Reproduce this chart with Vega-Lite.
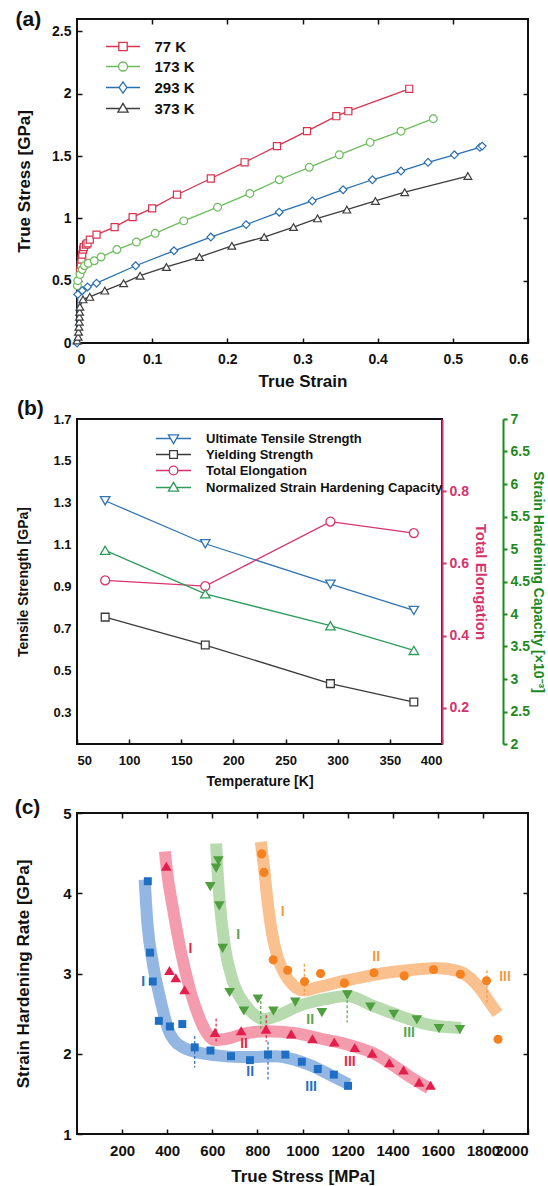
{
"$schema": "https://vega.github.io/schema/vega-lite/v6.json",
"padding": {"left": 13, "top": 8, "right": 0, "bottom": 0},
"spacing": 7,
"resolve": {"scale": {"color": "independent", "shape": "independent", "fill": "independent", "stroke": "independent"}, "legend": {"color": "independent", "shape": "independent", "fill": "independent", "stroke": "independent"}},
"datasets": {
"a": [
{"T":"77 K","e":0.004,"s":0.58},{"T":"77 K","e":0.005,"s":0.63},{"T":"77 K","e":0.006,"s":0.67},{"T":"77 K","e":0.007,"s":0.71},{"T":"77 K","e":0.008,"s":0.75},{"T":"77 K","e":0.009,"s":0.77},{"T":"77 K","e":0.012,"s":0.79},{"T":"77 K","e":0.014,"s":0.8},{"T":"77 K","e":0.017,"s":0.83},{"T":"77 K","e":0.026,"s":0.87},{"T":"77 K","e":0.05,"s":0.93},{"T":"77 K","e":0.074,"s":1.01},{"T":"77 K","e":0.1,"s":1.08},{"T":"77 K","e":0.133,"s":1.19},{"T":"77 K","e":0.178,"s":1.32},{"T":"77 K","e":0.223,"s":1.45},{"T":"77 K","e":0.266,"s":1.58},{"T":"77 K","e":0.306,"s":1.7},{"T":"77 K","e":0.345,"s":1.82},{"T":"77 K","e":0.361,"s":1.86},{"T":"77 K","e":0.442,"s":2.04},
{"T":"173 K","e":0.0005,"s":0.46},{"T":"173 K","e":0.001,"s":0.5},{"T":"173 K","e":0.004,"s":0.55},{"T":"173 K","e":0.007,"s":0.59},{"T":"173 K","e":0.01,"s":0.62},{"T":"173 K","e":0.015,"s":0.64},{"T":"173 K","e":0.023,"s":0.66},{"T":"173 K","e":0.032,"s":0.69},{"T":"173 K","e":0.053,"s":0.75},{"T":"173 K","e":0.079,"s":0.81},{"T":"173 K","e":0.104,"s":0.88},{"T":"173 K","e":0.142,"s":0.98},{"T":"173 K","e":0.187,"s":1.09},{"T":"173 K","e":0.23,"s":1.2},{"T":"173 K","e":0.269,"s":1.31},{"T":"173 K","e":0.309,"s":1.41},{"T":"173 K","e":0.349,"s":1.51},{"T":"173 K","e":0.39,"s":1.61},{"T":"173 K","e":0.431,"s":1.7},{"T":"173 K","e":0.474,"s":1.8},
{"T":"293 K","e":0,"s":0},{"T":"293 K","e":0.001,"s":0.39},{"T":"293 K","e":0.007,"s":0.42},{"T":"293 K","e":0.014,"s":0.45},{"T":"293 K","e":0.026,"s":0.48},{"T":"293 K","e":0.078,"s":0.62},{"T":"293 K","e":0.129,"s":0.74},{"T":"293 K","e":0.178,"s":0.85},{"T":"293 K","e":0.225,"s":0.95},{"T":"293 K","e":0.269,"s":1.05},{"T":"293 K","e":0.313,"s":1.14},{"T":"293 K","e":0.354,"s":1.23},{"T":"293 K","e":0.393,"s":1.31},{"T":"293 K","e":0.431,"s":1.38},{"T":"293 K","e":0.467,"s":1.45},{"T":"293 K","e":0.502,"s":1.51},{"T":"293 K","e":0.536,"s":1.57},{"T":"293 K","e":0.539,"s":1.58},
{"T":"373 K","e":0.0001,"s":0.02},{"T":"373 K","e":0.0015,"s":0.05},{"T":"373 K","e":0.002,"s":0.09},{"T":"373 K","e":0.0025,"s":0.13},{"T":"373 K","e":0.003,"s":0.17},{"T":"373 K","e":0.0032,"s":0.21},{"T":"373 K","e":0.0035,"s":0.25},{"T":"373 K","e":0.0038,"s":0.29},{"T":"373 K","e":0.008,"s":0.35},{"T":"373 K","e":0.017,"s":0.37},{"T":"373 K","e":0.037,"s":0.42},{"T":"373 K","e":0.062,"s":0.48},{"T":"373 K","e":0.084,"s":0.54},{"T":"373 K","e":0.119,"s":0.61},{"T":"373 K","e":0.163,"s":0.69},{"T":"373 K","e":0.206,"s":0.78},{"T":"373 K","e":0.249,"s":0.85},{"T":"373 K","e":0.288,"s":0.93},{"T":"373 K","e":0.32,"s":1.0},{"T":"373 K","e":0.359,"s":1.07},{"T":"373 K","e":0.397,"s":1.14},{"T":"373 K","e":0.436,"s":1.21},{"T":"373 K","e":0.52,"s":1.34}
],
"b": [
{"m":"Ultimate Tensile Strength","T":77,"v":1.31},{"m":"Ultimate Tensile Strength","T":173,"v":1.105},{"m":"Ultimate Tensile Strength","T":293,"v":0.912},{"m":"Ultimate Tensile Strength","T":373,"v":0.787},
{"m":"Yielding Strength","T":77,"v":0.755},{"m":"Yielding Strength","T":173,"v":0.622},{"m":"Yielding Strength","T":293,"v":0.438},{"m":"Yielding Strength","T":373,"v":0.35},
{"m":"Total Elongation","T":77,"v":0.553},{"m":"Total Elongation","T":173,"v":0.537},{"m":"Total Elongation","T":293,"v":0.716},{"m":"Total Elongation","T":373,"v":0.684},
{"m":"Normalized Strain Hardening Capacity","T":77,"v":4.98},{"m":"Normalized Strain Hardening Capacity","T":173,"v":4.31},{"m":"Normalized Strain Hardening Capacity","T":293,"v":3.82},{"m":"Normalized Strain Hardening Capacity","T":373,"v":3.44}
],
"cpts": [
{"K":"373 K","s":314,"r":4.15},{"K":"373 K","s":324,"r":3.26},{"K":"373 K","s":336,"r":2.9},{"K":"373 K","s":363,"r":2.41},{"K":"373 K","s":412,"r":2.34},{"K":"373 K","s":467,"r":2.37},{"K":"373 K","s":522,"r":2.08},{"K":"373 K","s":592,"r":2.04},{"K":"373 K","s":683,"r":1.97},{"K":"373 K","s":767,"r":1.92},{"K":"373 K","s":847,"r":1.99},{"K":"373 K","s":924,"r":1.99},{"K":"373 K","s":997,"r":1.9},{"K":"373 K","s":1068,"r":1.81},{"K":"373 K","s":1139,"r":1.74},{"K":"373 K","s":1202,"r":1.6},
{"K":"293 K","s":396,"r":4.33},{"K":"293 K","s":410,"r":3.03},{"K":"293 K","s":438,"r":2.94},{"K":"293 K","s":477,"r":2.79},{"K":"293 K","s":612,"r":2.26},{"K":"293 K","s":728,"r":2.28},{"K":"293 K","s":838,"r":2.3},{"K":"293 K","s":950,"r":2.24},{"K":"293 K","s":1044,"r":2.18},{"K":"293 K","s":1141,"r":2.14},{"K":"293 K","s":1232,"r":2.07},{"K":"293 K","s":1309,"r":2.0},{"K":"293 K","s":1385,"r":1.88},{"K":"293 K","s":1448,"r":1.79},{"K":"293 K","s":1517,"r":1.64},{"K":"293 K","s":1568,"r":1.6},
{"K":"173 K","s":627,"r":4.41},{"K":"173 K","s":617,"r":4.32},{"K":"173 K","s":591,"r":4.09},{"K":"173 K","s":631,"r":3.85},{"K":"173 K","s":646,"r":3.32},{"K":"173 K","s":677,"r":2.77},{"K":"173 K","s":740,"r":2.54},{"K":"173 K","s":802,"r":2.69},{"K":"173 K","s":871,"r":2.54},{"K":"173 K","s":968,"r":2.65},{"K":"173 K","s":1086,"r":2.52},{"K":"173 K","s":1199,"r":2.74},{"K":"173 K","s":1301,"r":2.59},{"K":"173 K","s":1405,"r":2.5},{"K":"173 K","s":1507,"r":2.43},{"K":"173 K","s":1605,"r":2.32},{"K":"173 K","s":1698,"r":2.31},
{"K":"77 K","s":819,"r":4.49},{"K":"77 K","s":829,"r":4.26},{"K":"77 K","s":870,"r":3.17},{"K":"77 K","s":934,"r":3.04},{"K":"77 K","s":1009,"r":2.9},{"K":"77 K","s":1080,"r":3.0},{"K":"77 K","s":1186,"r":2.88},{"K":"77 K","s":1317,"r":3.01},{"K":"77 K","s":1451,"r":2.97},{"K":"77 K","s":1581,"r":3.05},{"K":"77 K","s":1700,"r":2.99},{"K":"77 K","s":1816,"r":2.91},{"K":"77 K","s":1867,"r":2.18}
],
"cfit": [
{"K":"373 K","s":300,"r":4.17},{"K":"373 K","s":313,"r":3.6},{"K":"373 K","s":335,"r":3.15},{"K":"373 K","s":362,"r":2.77},{"K":"373 K","s":385,"r":2.5},{"K":"373 K","s":405,"r":2.3},{"K":"373 K","s":430,"r":2.17},{"K":"373 K","s":470,"r":2.08},{"K":"373 K","s":530,"r":2.02},{"K":"373 K","s":620,"r":1.98},{"K":"373 K","s":720,"r":1.96},{"K":"373 K","s":800,"r":1.96},{"K":"373 K","s":880,"r":1.97},{"K":"373 K","s":960,"r":1.93},{"K":"373 K","s":1040,"r":1.85},{"K":"373 K","s":1120,"r":1.74},{"K":"373 K","s":1205,"r":1.62},
{"K":"293 K","s":390,"r":4.52},{"K":"293 K","s":398,"r":4.3},{"K":"293 K","s":426,"r":3.8},{"K":"293 K","s":461,"r":3.27},{"K":"293 K","s":496,"r":2.85},{"K":"293 K","s":538,"r":2.48},{"K":"293 K","s":575,"r":2.26},{"K":"293 K","s":610,"r":2.17},{"K":"293 K","s":668,"r":2.19},{"K":"293 K","s":741,"r":2.25},{"K":"293 K","s":844,"r":2.28},{"K":"293 K","s":961,"r":2.26},{"K":"293 K","s":1078,"r":2.19},{"K":"293 K","s":1180,"r":2.13},{"K":"293 K","s":1254,"r":2.07},{"K":"293 K","s":1327,"r":1.99},{"K":"293 K","s":1400,"r":1.86},{"K":"293 K","s":1473,"r":1.72},{"K":"293 K","s":1561,"r":1.57},
{"K":"173 K","s":617,"r":4.62},{"K":"173 K","s":622,"r":4.34},{"K":"173 K","s":636,"r":3.8},{"K":"173 K","s":657,"r":3.31},{"K":"173 K","s":693,"r":2.89},{"K":"173 K","s":749,"r":2.6},{"K":"173 K","s":800,"r":2.46},{"K":"173 K","s":830,"r":2.43},{"K":"173 K","s":875,"r":2.46},{"K":"173 K","s":988,"r":2.6},{"K":"173 K","s":1100,"r":2.68},{"K":"173 K","s":1198,"r":2.72},{"K":"173 K","s":1310,"r":2.6},{"K":"173 K","s":1423,"r":2.48},{"K":"173 K","s":1549,"r":2.37},{"K":"173 K","s":1704,"r":2.32},
{"K":"77 K","s":815,"r":4.64},{"K":"77 K","s":830,"r":4.3},{"K":"77 K","s":845,"r":3.9},{"K":"77 K","s":865,"r":3.5},{"K":"77 K","s":890,"r":3.2},{"K":"77 K","s":920,"r":3.0},{"K":"77 K","s":960,"r":2.85},{"K":"77 K","s":1005,"r":2.79},{"K":"77 K","s":1070,"r":2.83},{"K":"77 K","s":1190,"r":2.91},{"K":"77 K","s":1330,"r":2.99},{"K":"77 K","s":1470,"r":3.04},{"K":"77 K","s":1590,"r":3.07},{"K":"77 K","s":1690,"r":3.03},{"K":"77 K","s":1740,"r":2.95},{"K":"77 K","s":1790,"r":2.8},{"K":"77 K","s":1830,"r":2.64},{"K":"77 K","s":1865,"r":2.5}
],
"crule": [
{"K":"373 K","s":522,"r1":2.22,"r2":1.83},{"K":"373 K","s":847,"r1":2.15,"r2":1.68},
{"K":"293 K","s":617,"r1":2.44,"r2":2.13},{"K":"293 K","s":839,"r1":2.48,"r2":2.15},
{"K":"173 K","s":815,"r1":2.72,"r2":2.31},{"K":"173 K","s":1198,"r1":2.79,"r2":2.39},
{"K":"77 K","s":1008,"r1":3.12,"r2":2.73},{"K":"77 K","s":1818,"r1":3.04,"r2":2.64}
],
"clab": [
{"K":"373 K","s":294,"r":2.9,"t":"I"},{"K":"373 K","s":768,"r":1.77,"t":"II"},{"K":"373 K","s":1038,"r":1.58,"t":"III"},
{"K":"293 K","s":503,"r":3.31,"t":"I"},{"K":"293 K","s":741,"r":2.12,"t":"II"},{"K":"293 K","s":1210,"r":1.9,"t":"III"},
{"K":"173 K","s":715,"r":3.48,"t":"I"},{"K":"173 K","s":1034,"r":2.42,"t":"II"},{"K":"173 K","s":1473,"r":2.26,"t":"III"},
{"K":"77 K","s":912,"r":3.77,"t":"I"},{"K":"77 K","s":1327,"r":3.21,"t":"II"},{"K":"77 K","s":1898,"r":2.96,"t":"III"}
]
},
"vconcat": [
{
"width": 451, "height": 324,
"title": {"text": "(a)", "dy": 16},
"layer": [
{"data": {"name": "a"}, "mark": {"type": "line", "strokeWidth": 1.3},
 "encoding": {
  "x": {"field": "e", "type": "quantitative", "scale": {"domain": [0, 0.6]}, "axis": {"values": [0,0.1,0.2,0.3,0.4,0.5,0.6], "format": "~g", "labelFontSize": 14, "labelPadding": 14, "title": "True Strain", "titleFontSize": 17, "titlePadding": 7}},
  "y": {"field": "s", "type": "quantitative", "scale": {"domain": [0, 2.5]}, "axis": {"values": [0,0.5,1,1.5,2,2.5], "format": "~g", "labelFontSize": 14, "title": "True Stress [GPa]", "titleFontSize": 17, "titlePadding": 18}},
  "color": {"field": "T", "type": "nominal", "scale": {"domain": ["77 K","173 K","293 K","373 K"], "range": ["#d8344f","#6cbb5c","#2a6fb0","#3d3d3d"]},
   "legend": {"orient": "none", "legendX": 29, "legendY": 20, "title": null, "labelFontSize": 15, "symbolSize": 9, "symbolStrokeWidth": 1.3, "symbolOffset": 9.5, "labelOffset": 24, "rowPadding": 4, "symbolOpacity": 1,
    "symbolType": {"expr": "datum.value === '77 K' ? 'M-11.33,0H-2.8M2.8,0H11.33M-2.8,-2.8H2.8V2.8H-2.8Z' : datum.value === '173 K' ? 'M-11.33,0H-3M3,0H11.33M3,0A3,3,0,1,1,-3,0A3,3,0,1,1,3,0Z' : datum.value === '293 K' ? 'M-11.33,0H-2.6M2.6,0H11.33M0,-3.8L2.6,0L0,3.8L-2.6,0Z' : 'M-11.33,0H-2M2,0H11.33M0,-3.4L3.4,2.4L-3.4,2.4Z'"}}}
 }},
{"data": {"name": "a"}, "transform": [{"filter": "datum.T === '77 K'"}], "mark": {"type": "point", "shape": "square", "size": 50, "filled": false, "fill": "white", "opacity": 1, "strokeWidth": 1.2},
 "encoding": {"x": {"field": "e", "type": "quantitative", "axis": null}, "y": {"field": "s", "type": "quantitative", "axis": null}, "color": {"field": "T", "type": "nominal"}}},
{"data": {"name": "a"}, "transform": [{"filter": "datum.T === '173 K'"}], "mark": {"type": "point", "shape": "circle", "size": 60, "filled": false, "fill": "white", "opacity": 1, "strokeWidth": 1.2},
 "encoding": {"x": {"field": "e", "type": "quantitative", "axis": null}, "y": {"field": "s", "type": "quantitative", "axis": null}, "color": {"field": "T", "type": "nominal"}}},
{"data": {"name": "a"}, "transform": [{"filter": "datum.T === '293 K'"}], "mark": {"type": "point", "shape": "diamond", "size": 60, "filled": false, "fill": "white", "opacity": 1, "strokeWidth": 1.2},
 "encoding": {"x": {"field": "e", "type": "quantitative", "axis": null}, "y": {"field": "s", "type": "quantitative", "axis": null}, "color": {"field": "T", "type": "nominal"}}},
{"data": {"name": "a"}, "transform": [{"filter": "datum.T === '373 K'"}], "mark": {"type": "point", "shape": "triangle-up", "size": 60, "filled": false, "fill": "white", "opacity": 1, "strokeWidth": 1.2},
 "encoding": {"x": {"field": "e", "type": "quantitative", "axis": null}, "y": {"field": "s", "type": "quantitative", "axis": null}, "color": {"field": "T", "type": "nominal"}}},
{"data": {"name": "a"}, "transform": [{"filter": "false"}], "mark": {"type": "point", "opacity": 0},
 "encoding": {
  "x": {"field": "e", "type": "quantitative", "axis": {"orient": "top", "labels": false, "title": null, "values": [0.1,0.2,0.3,0.4,0.5]}},
  "y": {"field": "s", "type": "quantitative", "axis": {"orient": "right", "labels": false, "title": null, "values": [0.5,1,1.5,2]}}
 }}
],
"resolve": {"axis": {"x": "independent", "y": "independent"}}
},
{
"width": 365, "height": 325,
"title": {"text": "(b)", "dy": 11},
"layer": [
 {"data": {"name": "b"}, "transform": [{"filter": "datum.m === 'Ultimate Tensile Strength' || datum.m === 'Yielding Strength'"}], "mark": {"type": "line", "strokeWidth": 1.3},
  "encoding": {
   "x": {"field": "T", "type": "quantitative", "scale": {"domain": [50, 400]}, "axis": {"values": [50,100,150,200,250,300,350,400], "labelFontSize": 13, "labelPadding": 15, "title": "Temperature [K]", "titleFontSize": 14, "titlePadding": 7}},
   "y": {"field": "v", "type": "quantitative", "scale": {"domain": [0.15, 1.7]}, "axis": {"orient": "left", "values": [0.3,0.5,0.7,0.9,1.1,1.3,1.5,1.7], "format": ".1f", "ticks": false, "labelPadding": 6, "labelFontSize": 13, "title": "Tensile Strength [GPa]", "titleFontSize": 14, "titlePadding": 22}},
   "color": {"field": "m", "type": "nominal", "scale": {"domain": ["Ultimate Tensile Strength","Yielding Strength","Total Elongation","Normalized Strain Hardening Capacity"], "range": ["#2f74b5","#3a3a3a","#d8336e","#2c9c5a"]},
    "legend": {"orient": "none", "legendX": 79, "legendY": 13, "title": null, "labelFontSize": 13, "symbolSize": 9, "symbolStrokeWidth": 1.3, "symbolOffset": 11, "labelOffset": 26, "rowPadding": 1, "labelLimit": 400, "symbolOpacity": 1,
     "symbolType": {"expr": "datum.value === 'Ultimate Tensile Strength' ? 'M-11.67,0H-2M2,0H11.67M0,3.4L3.4,-2.4L-3.4,-2.4Z' : datum.value === 'Yielding Strength' ? 'M-11.67,0H-2.6M2.6,0H11.67M-2.6,-2.6H2.6V2.6H-2.6Z' : datum.value === 'Total Elongation' ? 'M-11.67,0H-2.9M2.9,0H11.67M2.9,0A2.9,2.9,0,1,1,-2.9,0A2.9,2.9,0,1,1,2.9,0Z' : 'M-11.67,0H-2M2,0H11.67M0,-3.4L3.4,2.4L-3.4,2.4Z'"}}}
  }},
 {"data": {"name": "b"}, "transform": [{"filter": "datum.m === 'Ultimate Tensile Strength'"}], "mark": {"type": "point", "shape": "triangle-down", "size": 90, "filled": false, "fill": "white", "opacity": 1, "strokeWidth": 1.3},
  "encoding": {"x": {"field": "T", "type": "quantitative", "axis": null}, "y": {"field": "v", "type": "quantitative", "scale": {"domain": [0.15, 1.7]}, "axis": null}, "color": {"field": "m", "type": "nominal"}}},
 {"data": {"name": "b"}, "transform": [{"filter": "datum.m === 'Yielding Strength'"}], "mark": {"type": "point", "shape": "square", "size": 60, "filled": false, "fill": "white", "opacity": 1, "strokeWidth": 1.3},
  "encoding": {"x": {"field": "T", "type": "quantitative", "axis": null}, "y": {"field": "v", "type": "quantitative", "scale": {"domain": [0.15, 1.7]}, "axis": null}, "color": {"field": "m", "type": "nominal"}}},
 {"data": {"name": "b"}, "transform": [{"filter": "datum.m === 'Total Elongation'"}], "mark": {"type": "line", "strokeWidth": 1.3},
  "encoding": {"x": {"field": "T", "type": "quantitative", "axis": null},
   "y": {"field": "v", "type": "quantitative", "scale": {"domain": [0.1, 1.0]}, "axis": {"orient": "right", "values": [0.2,0.4,0.6,0.8], "format": ".1f", "domain": true, "domainColor": "#d6336c", "domainWidth": 2, "tickSize": 4, "tickColor": "#d6336c", "tickWidth": 2, "labelPadding": 3, "labelColor": "#d6336c", "labelFontSize": 14, "title": "Total Elongation", "titleColor": "#d6336c", "titleFontSize": 15, "titlePadding": 4}},
   "color": {"field": "m", "type": "nominal"}}},
 {"data": {"name": "b"}, "transform": [{"filter": "datum.m === 'Total Elongation'"}], "mark": {"type": "point", "shape": "circle", "size": 80, "filled": false, "fill": "white", "opacity": 1, "strokeWidth": 1.3},
  "encoding": {"x": {"field": "T", "type": "quantitative", "axis": null}, "y": {"field": "v", "type": "quantitative", "scale": {"domain": [0.1, 1.0]}, "axis": null}, "color": {"field": "m", "type": "nominal"}}},
 {"data": {"name": "b"}, "transform": [{"filter": "datum.m === 'Normalized Strain Hardening Capacity'"}], "mark": {"type": "line", "strokeWidth": 1.3},
  "encoding": {"x": {"field": "T", "type": "quantitative", "axis": null},
   "y": {"field": "v", "type": "quantitative", "scale": {"domain": [2, 7]}, "axis": {"orient": "right", "offset": 61, "values": [2,2.5,3,3.5,4,4.5,5,5.5,6,6.5,7], "format": "~g", "domain": true, "domainColor": "#1d8a1d", "domainWidth": 2, "tickSize": 4, "tickColor": "#1d8a1d", "tickWidth": 2, "labelPadding": 3, "labelColor": "#1d8a1d", "labelFontSize": 14, "title": "Strain Hardening Capacity [×10⁻³]", "titleColor": "#1d8a1d", "titleFontSize": 14, "titlePadding": 1}},
   "color": {"field": "m", "type": "nominal"}}},
 {"data": {"name": "b"}, "transform": [{"filter": "datum.m === 'Normalized Strain Hardening Capacity'"}], "mark": {"type": "point", "shape": "triangle-up", "size": 90, "filled": false, "fill": "white", "opacity": 1, "strokeWidth": 1.3},
  "encoding": {"x": {"field": "T", "type": "quantitative", "axis": null}, "y": {"field": "v", "type": "quantitative", "scale": {"domain": [2, 7]}, "axis": null}, "color": {"field": "m", "type": "nominal"}}}
],
"resolve": {"scale": {"y": "independent"}, "axis": {"x": "independent", "y": "independent"}}
},
{
"width": 451, "height": 321,
"title": {"text": "(c)", "dy": 16},
"layer": [
{"data": {"name": "cfit"}, "mark": {"type": "line", "strokeWidth": 12, "opacity": 0.75, "interpolate": "monotone", "strokeCap": "butt"},
 "encoding": {
  "x": {"field": "s", "type": "quantitative", "scale": {"domain": [100, 2000]}, "axis": {"values": [200,400,600,800,1000,1200,1400,1600,1800,2000], "format": "d", "labelOverlap": false, "labelFontSize": 15, "labelPadding": 14, "title": "True Stress [MPa]", "titleFontSize": 17, "titlePadding": 10}},
  "y": {"field": "r", "type": "quantitative", "scale": {"domain": [1, 5]}, "axis": {"values": [1,2,3,4,5], "labelFontSize": 15, "title": "Strain Hardening Rate [GPa]", "titleFontSize": 17, "titlePadding": 30}},
  "stroke": {"field": "K", "type": "nominal", "scale": {"domain": ["373 K","293 K","173 K","77 K"], "range": ["#6f9fd8","#f27a93","#9fcd94","#f8ab68"]}, "legend": null}
 }},
{"data": {"name": "crule"}, "mark": {"type": "rule", "strokeDash": [3, 2], "strokeWidth": 1.2},
 "encoding": {
  "x": {"field": "s", "type": "quantitative", "axis": {"orient": "top", "labels": false, "title": null, "values": [200,400,600,800,1000,1200,1400,1600,1800]}},
  "y": {"field": "r1", "type": "quantitative", "axis": {"orient": "right", "labels": false, "title": null, "values": [2,3,4]}},
  "y2": {"field": "r2"},
  "color": {"field": "K", "type": "nominal", "scale": {"domain": ["373 K","293 K","173 K","77 K"], "range": ["#2a6fc0","#e3264f","#5aa64a","#f29a3c"]}, "legend": null}
 }},
{"data": {"name": "cpts"}, "transform": [{"filter": "datum.K === '373 K'"}], "mark": {"type": "point", "filled": true, "size": 1444, "opacity": 1, "strokeWidth": 0, "shape": "M-0.21,-0.21H0.21V0.21H-0.21Z"},
 "encoding": {
  "x": {"field": "s", "type": "quantitative", "axis": null},
  "y": {"field": "r", "type": "quantitative", "axis": null},
  "fill": {"field": "K", "type": "nominal", "scale": {"domain": ["373 K","293 K","173 K","77 K"], "range": ["#1e6fc4","#e31e4c","#4e9f3d","#f5821f"]},
   "legend": {"orient": "top-left", "offset": 24, "title": null, "symbolSize": 225, "symbolStrokeWidth": 0, "symbolOffset": 343.5, "labelOffset": 360, "labelFontSize": 14, "rowPadding": 1, "zindex": 1,
    "symbolType": {"expr": "datum.value === '373 K' ? 'M-0.56,-0.56H0.56V0.56H-0.56Z' : datum.value === '293 K' ? 'M0,-0.62L0.64,0.5L-0.64,0.5Z' : datum.value === '173 K' ? 'M0,0.62L0.64,-0.5L-0.64,-0.5Z' : 'M0.58,0A0.58,0.58,0,1,1,-0.58,0A0.58,0.58,0,1,1,0.58,0Z'"}}}
 }},
{"data": {"name": "cpts"}, "transform": [{"filter": "datum.K === '293 K'"}], "mark": {"type": "point", "filled": true, "size": 1444, "opacity": 1, "strokeWidth": 0, "shape": "M0,-0.27L0.28,0.21L-0.28,0.21Z"},
 "encoding": {"x": {"field": "s", "type": "quantitative", "axis": null}, "y": {"field": "r", "type": "quantitative", "axis": null}, "fill": {"field": "K", "type": "nominal"}}},
{"data": {"name": "cpts"}, "transform": [{"filter": "datum.K === '173 K'"}], "mark": {"type": "point", "filled": true, "size": 1444, "opacity": 1, "strokeWidth": 0, "shape": "M0,0.27L0.28,-0.21L-0.28,-0.21Z"},
 "encoding": {"x": {"field": "s", "type": "quantitative", "axis": null}, "y": {"field": "r", "type": "quantitative", "axis": null}, "fill": {"field": "K", "type": "nominal"}}},
{"data": {"name": "cpts"}, "transform": [{"filter": "datum.K === '77 K'"}], "mark": {"type": "point", "filled": true, "size": 1444, "opacity": 1, "strokeWidth": 0, "shape": "M0.24,0A0.24,0.24,0,1,1,-0.24,0A0.24,0.24,0,1,1,0.24,0Z"},
 "encoding": {"x": {"field": "s", "type": "quantitative", "axis": null}, "y": {"field": "r", "type": "quantitative", "axis": null}, "fill": {"field": "K", "type": "nominal"}}},
{"data": {"name": "clab"}, "mark": {"type": "text", "fontWeight": "bold", "fontSize": 14, "font": "Liberation Sans"},
 "encoding": {
  "x": {"field": "s", "type": "quantitative", "axis": null},
  "y": {"field": "r", "type": "quantitative", "axis": null},
  "text": {"field": "t"},
  "color": {"field": "K", "type": "nominal", "legend": null}
 }}
],
"resolve": {"axis": {"x": "independent", "y": "independent"}}
}
],
"config": {
 "font": "Liberation Sans",
 "view": {"stroke": "#111", "strokeWidth": 2},
 "axis": {"grid": false, "domain": false, "labelFont": "Liberation Sans", "titleFont": "Liberation Sans", "labelFontWeight": "bold", "titleFontWeight": "bold", "labelColor": "#111", "titleColor": "#111", "tickColor": "#111", "tickSize": -5, "tickWidth": 1.5, "labelPadding": 11},
 "legend": {"labelFont": "Liberation Sans", "labelFontWeight": "bold", "labelColor": "#111"},
 "title": {"font": "Liberation Sans", "fontSize": 21, "fontWeight": "bold", "anchor": "start", "frame": "bounds", "color": "#111"}
}
}
